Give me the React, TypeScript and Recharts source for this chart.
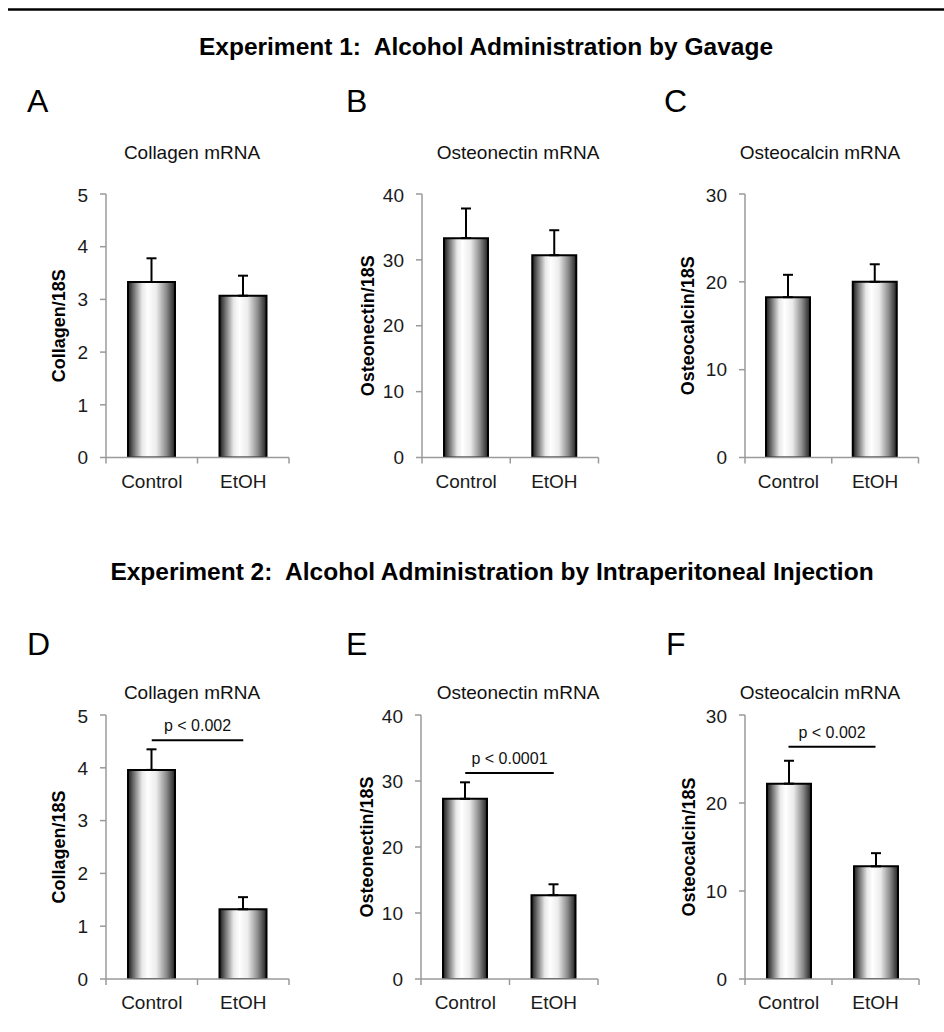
import React from 'react';
import { BarChart, Bar, XAxis, YAxis, ErrorBar, ReferenceLine, Label } from 'recharts';

const categories = ['Control', 'EtOH'];

const collagenGavage = [3.33, 3.07];
const collagenGavageErr = [0.45, 0.38];
const osteonectinGavage = [33.3, 30.7];
const osteonectinGavageErr = [4.5, 3.8];
const osteocalcinGavage = [18.25, 20.0];
const osteocalcinGavageErr = [2.55, 2.0];

const collagenIP = [3.96, 1.32];
const collagenIPErr = [0.39, 0.23];
const osteonectinIP = [27.3, 12.7];
const osteonectinIPErr = [2.5, 1.65];
const osteocalcinIP = [22.2, 12.8];
const osteocalcinIPErr = [2.6, 1.5];

const ticks5 = [0, 1, 2, 3, 4, 5];
const ticks40 = [0, 10, 20, 30, 40];
const ticks30 = [0, 10, 20, 30];

const FONT = '"Liberation Sans", Arial, sans-serif';
const AXIS = '#9a9a9a';

type PanelProps = {
  id: string;
  values: number[];
  errors: number[];
  ticks: number[];
  yLabel: string;
  axisX: number;
  plotTop: number;
  plotW: number;
  plotH: number;
  barSize: number;
  labelOffset: number;
  sig?: { y: number; text: string };
};

const Panel = (p: PanelProps) => {
  const data = categories.map((c, i) => ({ name: c, value: p.values[i], err: [0, p.errors[i]] }));
  const YW = 90;
  const MT = 10;
  const XH = 50;
  const width = YW + p.plotW + 10;
  const height = MT + p.plotH + XH;
  const band = p.plotW / categories.length;
  const gid = 'grad-' + p.id;
  const XTick = (props: any) => {
    const { x, y, payload, index } = props;
    const y0 = y - 6;
    return (
      <g>
        <line x1={x - band / 2} x2={x - band / 2} y1={y0} y2={y0 + 6} stroke={AXIS} strokeWidth={1.5} />
        {index === categories.length - 1 && (
          <line x1={x + band / 2} x2={x + band / 2} y1={y0} y2={y0 + 6} stroke={AXIS} strokeWidth={1.5} />
        )}
        <text x={x} y={y0 + 30} textAnchor="middle" fontSize={19} fill="#1a1a1a" fontFamily={FONT}>
          {payload.value}
        </text>
      </g>
    );
  };
  return (
    <div style={{ position: 'absolute', left: p.axisX - YW, top: p.plotTop - MT }}>
      <BarChart width={width} height={height} data={data} margin={{ top: MT, right: 10, left: 0, bottom: 0 }} barSize={p.barSize}>
        <defs>
          <linearGradient id={gid} x1="0" y1="0" x2="1" y2="0">
            <stop offset="0%" stopColor="#1a1a1a" />
            <stop offset="12%" stopColor="#6e6e6e" />
            <stop offset="30%" stopColor="#e8e8e8" />
            <stop offset="42%" stopColor="#ffffff" />
            <stop offset="60%" stopColor="#ececec" />
            <stop offset="82%" stopColor="#8a8a8a" />
            <stop offset="100%" stopColor="#222222" />
          </linearGradient>
        </defs>
        <XAxis
          dataKey="name"
          height={XH}
          axisLine={{ stroke: AXIS, strokeWidth: 1.5 }}
          tickLine={false}
          tickSize={6}
          tickMargin={0}
          tick={XTick}
          interval={0}
        />
        <YAxis
          width={YW}
          domain={[p.ticks[0], p.ticks[p.ticks.length - 1]]}
          ticks={p.ticks}
          allowDataOverflow
          axisLine={{ stroke: AXIS, strokeWidth: 1.5 }}
          tickLine={{ stroke: AXIS, strokeWidth: 1.5 }}
          tickSize={6}
          tickMargin={12}
          tick={{ fontSize: 19, fill: '#1a1a1a', fontFamily: FONT }}
        >
          <Label
            value={p.yLabel}
            angle={-90}
            position="insideLeft"
            offset={p.labelOffset}
            style={{ textAnchor: 'middle', fontSize: 18, fontWeight: 'bold', fill: '#000', fontFamily: FONT }}
          />
        </YAxis>
        <Bar dataKey="value" fill={`url(#${gid})`} stroke="#000" strokeWidth={2} isAnimationActive={false}>
          <ErrorBar dataKey="err" width={5} stroke="#000" strokeWidth={2} direction="y" />
        </Bar>
        {p.sig && (
          <ReferenceLine
            segment={[{ x: categories[0], y: p.sig.y }, { x: categories[1], y: p.sig.y }]}
            stroke="#000"
            strokeWidth={2}
            ifOverflow="visible"
          >
            <Label value={p.sig.text} position="top" offset={9} style={{ fontSize: 16, fill: '#111', fontFamily: FONT }} />
          </ReferenceLine>
        )}
      </BarChart>
    </div>
  );
};

const App = () => {
  const tA = 194.3;
  const tD = 715;
  const h = 263.5;
  return (
    <div style={{ position: 'absolute', left: 0, top: 0, width: 944, height: 1032, background: '#fff', fontFamily: FONT }}>
      <svg width={944} height={1032} style={{ position: 'absolute', left: 0, top: 0 }}>
        <line x1={8} x2={944} y1={9.5} y2={9.5} stroke="#000" strokeWidth={2.5} />
        <text x={486} y={55} textAnchor="middle" fontSize={24.5} fontWeight="bold" fontFamily={FONT} fill="#000" style={{ whiteSpace: 'pre' }}>
          {'Experiment 1:  Alcohol Administration by Gavage'}
        </text>
        <text x={492} y={580} textAnchor="middle" fontSize={24.5} fontWeight="bold" fontFamily={FONT} fill="#000" style={{ whiteSpace: 'pre' }}>
          {'Experiment 2:  Alcohol Administration by Intraperitoneal Injection'}
        </text>
        {[
          ['A', 27, 112], ['B', 346, 112], ['C', 664, 112],
          ['D', 27, 655], ['E', 346, 655], ['F', 666, 655],
        ].map(([l, x, y]) => (
          <text key={l as string} x={x as number} y={y as number} fontSize={32} fontFamily={FONT} fill="#000">{l}</text>
        ))}
        {[
          ['Collagen mRNA', 192, 159], ['Osteonectin mRNA', 518, 159], ['Osteocalcin mRNA', 820, 159],
          ['Collagen mRNA', 192, 699], ['Osteonectin mRNA', 518, 699], ['Osteocalcin mRNA', 820, 699],
        ].map(([s, x, y], i) => (
          <text key={i} x={x as number} y={y as number} textAnchor="middle" fontSize={19} fontFamily={FONT} fill="#111">{s}</text>
        ))}
      </svg>
      <Panel id="a" values={collagenGavage} errors={collagenGavageErr} ticks={ticks5} yLabel="Collagen/18S" axisX={106} plotTop={tA} plotW={183} plotH={h} barSize={47} labelOffset={43} />
      <Panel id="b" values={osteonectinGavage} errors={osteonectinGavageErr} ticks={ticks40} yLabel="Osteonectin/18S" axisX={421.5} plotTop={tA} plotW={176.5} plotH={h} barSize={44} labelOffset={36} />
      <Panel id="c" values={osteocalcinGavage} errors={osteocalcinGavageErr} ticks={ticks30} yLabel="Osteocalcin/18S" axisX={745} plotTop={tA} plotW={173.5} plotH={h} barSize={44} labelOffset={33} />
      <Panel id="d" values={collagenIP} errors={collagenIPErr} ticks={ticks5} yLabel="Collagen/18S" axisX={106} plotTop={tD} plotW={183} plotH={264} barSize={47} labelOffset={43} sig={{ y: 4.52, text: 'p < 0.002' }} />
      <Panel id="e" values={osteonectinIP} errors={osteonectinIPErr} ticks={ticks40} yLabel="Osteonectin/18S" axisX={421} plotTop={tD} plotW={177} plotH={264} barSize={44} labelOffset={36} sig={{ y: 31.2, text: 'p < 0.0001' }} />
      <Panel id="f" values={osteocalcinIP} errors={osteocalcinIPErr} ticks={ticks30} yLabel="Osteocalcin/18S" axisX={744.5} plotTop={tD} plotW={174} plotH={264} barSize={44} labelOffset={34} sig={{ y: 26.4, text: 'p < 0.002' }} />
    </div>
  );
};

export default App;
